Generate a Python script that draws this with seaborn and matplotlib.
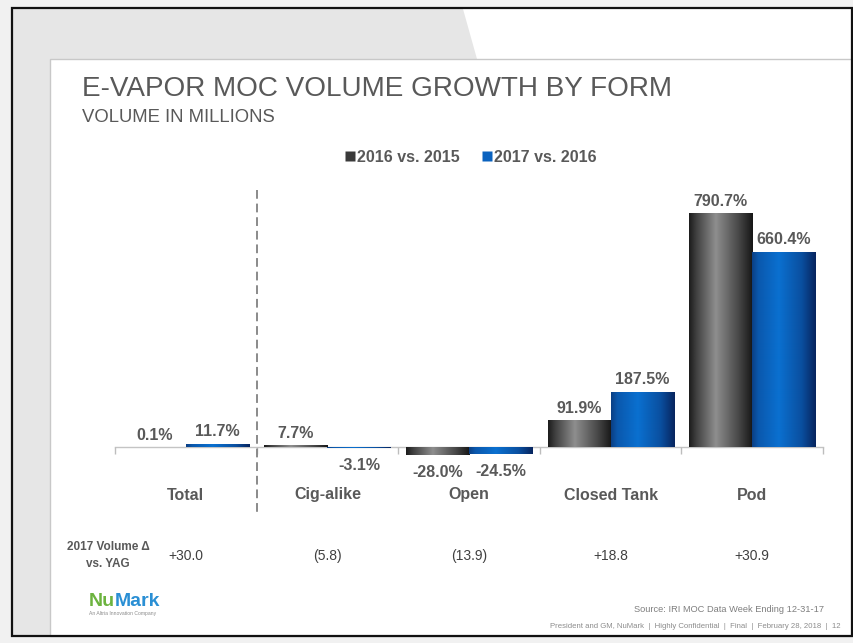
import numpy as np
import pandas as pd
import matplotlib
matplotlib.use("Agg")
import matplotlib.pyplot as plt
import seaborn as sns
from matplotlib.patches import Rectangle, Polygon
from matplotlib.lines import Line2D
from matplotlib.colors import LinearSegmentedColormap
from matplotlib.transforms import blended_transform_factory, offset_copy

# ---- data -------------------------------------------------------------
categories = ["Total", "Cig-alike", "Open", "Closed Tank", "Pod"]
series = ["2016 vs. 2015", "2017 vs. 2016"]
growth_2016 = [0.1, 7.7, -28.0, 91.9, 790.7]
growth_2017 = [11.7, -3.1, -24.5, 187.5, 660.4]
volume_delta = ["+30.0", "(5.8)", "(13.9)", "+18.8", "+30.9"]

df = pd.DataFrame({
    "form": categories * 2,
    "period": [series[0]] * len(categories) + [series[1]] * len(categories),
    "growth": growth_2016 + growth_2017,
})

# ---- styling ----------------------------------------------------------
sns.set_theme(style="white")
plt.rcParams["font.family"] = ["Liberation Sans", "DejaVu Sans"]

W, H = 854, 643
fig = plt.figure(figsize=(W / 100, H / 100), dpi=100)
fig.patch.set_facecolor("#f1f1f1")

# slide background drawn in pixel space
bg = fig.add_axes([0, 0, 1, 1], zorder=0)
bg.set_xlim(0, W)
bg.set_ylim(H, 0)
bg.axis("off")
bg.add_patch(Rectangle((12, 8), 840, 628, facecolor="#e6e6e6", edgecolor="none"))
bg.add_patch(Polygon([(463, 9), (852, 9), (852, 59), (477, 59)],
                     closed=True, facecolor="white", edgecolor="none"))
bg.add_patch(Rectangle((50, 59), 802, 577, facecolor="white",
                       edgecolor="#c8c8c8", lw=1.0))
bg.add_patch(Rectangle((12, 8), 840, 628, facecolor="none",
                       edgecolor="#111111", lw=1.6))

TXT = "#595959"
bg.text(82, 89, "E-VAPOR MOC VOLUME GROWTH BY FORM", fontsize=20.1,
        color=TXT, va="center", ha="left")
bg.text(82, 118, "VOLUME IN MILLIONS", fontsize=13.3, color=TXT,
        va="center", ha="left")

# ---- chart axes ------------------------------------------------------
X0, X1 = 115, 823          # category band in pixels
Y_TOP, Y_BOT, Y_ZERO = 190, 520, 447
PX_PER = 0.296             # pixels per percentage point
ax = fig.add_axes([X0 / W, 1 - Y_BOT / H, (X1 - X0) / W, (Y_BOT - Y_TOP) / H], zorder=2)
ax.patch.set_alpha(0)

palette = {series[0]: "#3a3a3a", series[1]: "#0a62bf"}
sns.barplot(data=df, x="form", y="growth", hue="period", order=categories,
            hue_order=series, palette=palette, width=0.89, dodge=True,
            saturation=1, ax=ax, legend=False, linewidth=0)

ylo = -(Y_BOT - Y_ZERO) / PX_PER
yhi = (Y_ZERO - Y_TOP) / PX_PER
ax.set_xlim(-0.5, len(categories) - 0.5)
ax.set_ylim(ylo, yhi)

# cylinder-like shading on each bar
grad = {
    series[0]: LinearSegmentedColormap.from_list(
        "g", [(0, "#1c1c1c"), (0.1, "#3c3c3c"), (0.42, "#8e8e8e"),
              (0.78, "#474747"), (1, "#161616")]),
    series[1]: LinearSegmentedColormap.from_list(
        "b", [(0, "#0b3f84"), (0.1, "#0a58ad"), (0.42, "#0a70d0"),
              (0.78, "#0a4f9f"), (1, "#07245e")]),
}
ramp = np.linspace(0, 1, 256).reshape(1, -1)
for container, name in zip(ax.containers, series):
    for patch in container.patches:
        x, y = patch.get_x(), patch.get_y()
        w, h = patch.get_width(), patch.get_height()
        im = ax.imshow(ramp, cmap=grad[name], aspect="auto",
                       extent=(x, x + w, min(y, y + h), max(y, y + h)),
                       zorder=patch.get_zorder() + 0.1, interpolation="bilinear")
        im.set_clip_path(patch)
ax.set_xlim(-0.5, len(categories) - 0.5)
ax.set_ylim(ylo, yhi)

# value labels
for container, vals in zip(ax.containers, [growth_2016, growth_2017]):
    for patch, v in zip(container.patches, vals):
        cx = patch.get_x() + patch.get_width() / 2
        if v >= 0:
            tr = offset_copy(ax.transData, fig=fig, y=3, units="points")
            ax.text(cx, v, f"{v:.1f}%", ha="center", va="bottom", fontsize=11.5,
                    fontweight="bold", color=TXT, transform=tr)
        else:
            tr = offset_copy(ax.transData, fig=fig, y=-7, units="points")
            ax.text(cx, v, f"{v:.1f}%", ha="center", va="top", fontsize=11.5,
                    fontweight="bold", color=TXT, transform=tr)

# category axis along zero
for s in ["top", "right", "left"]:
    ax.spines[s].set_visible(False)
ax.spines["bottom"].set_position(("data", 0))
ax.spines["bottom"].set_color("#c4c4c4")
ax.spines["bottom"].set_linewidth(1.0)
ax.spines["bottom"].set_zorder(0.5)
ax.set_yticks([])
ax.set_xticks(np.arange(-0.5, len(categories), 1.0))
ax.set_xticklabels([])
ax.tick_params(axis="x", direction="out", length=5, width=1.0, color="#bdbdbd",
               bottom=True)
ax.set_xlabel("")
ax.set_ylabel("")
ax.grid(False)

# divider between total and individual forms
ax.plot([0.5, 0.5], [yhi, -(515 - Y_ZERO) / PX_PER], color="#8a8a8a", lw=1.4,
        dashes=(4.5, 2.5), clip_on=False, zorder=5)

# category names and volume change row
tf = blended_transform_factory(ax.transData, bg.transData)
for i, (c, d) in enumerate(zip(categories, volume_delta)):
    ax.text(i, 495, c, transform=tf, ha="center", va="center", fontsize=11.5,
            fontweight="bold", color=TXT)
    ax.text(i, 556, d, transform=tf, ha="center", va="center", fontsize=10,
            color="#404040")

bg.text(108, 547, "2017 Volume \u0394", fontsize=8.5, fontweight="bold",
        color=TXT, ha="center", va="center")
bg.text(108, 564, "vs. YAG", fontsize=8.5, fontweight="bold",
        color=TXT, ha="center", va="center")

# legend
handles = [Line2D([], [], marker="s", ls="none", markersize=6.5,
                  markerfacecolor=palette[s], markeredgecolor="none") for s in series]
leg = fig.legend(handles, series, loc="center", ncol=2,
                 bbox_to_anchor=(470 / W, 1 - 157 / H), frameon=False,
                 handletextpad=0.05, columnspacing=1.3, handlelength=0.8,
                 prop={"weight": "bold", "size": 11.5})
for t in leg.get_texts():
    t.set_color(TXT)

# logo and footer
fig.canvas.draw()
r = fig.canvas.get_renderer()
nu = bg.text(89, 601, "Nu", fontsize=14, fontweight="bold", color="#6cb33f",
             ha="left", va="center")
bb = nu.get_window_extent(renderer=r)
x_end = bg.transData.inverted().transform((bb.x1, bb.y0))[0]
bg.text(x_end, 601, "Mark", fontsize=14, fontweight="bold", color="#2a8fd4",
        ha="left", va="center")
bg.text(89, 614, "An Altria Innovation Company", fontsize=3.6, color="#8a8a8a",
        ha="left", va="center")

bg.text(824, 609, "Source: IRI MOC Data Week Ending 12-31-17", fontsize=6.7,
        color="#7f7f7f", ha="right", va="center")
bg.text(841, 627, "President and GM, NuMark  |  Highly Confidential  |  Final  |  "
        "February 28, 2018  |  12", fontsize=5.6, color="#8c8c8c",
        ha="right", va="center")

fig.savefig("out.png", dpi=100, facecolor=fig.get_facecolor())
